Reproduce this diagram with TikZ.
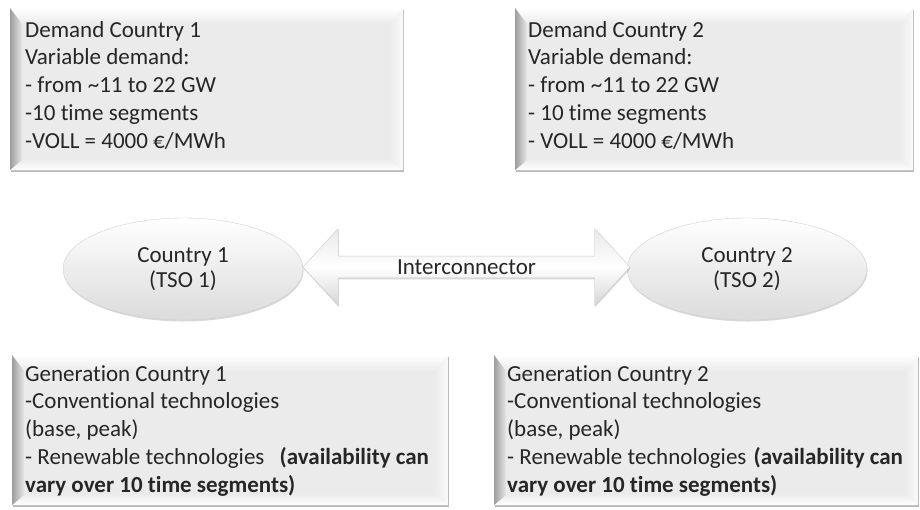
\documentclass[tikz,border=0pt]{standalone}
\usepackage{fontspec}
\setmainfont{Carlito}[Ligatures={NoCommon,NoRare}, Contextuals=NoAlternate]
\usetikzlibrary{shapes.geometric,shapes.arrows,shadows}
\tikzset{
  panel/.style={fill=black!8, draw=none, inner sep=0pt, anchor=north west,
    drop shadow={shadow xshift=0.8pt, shadow yshift=-2pt, opacity=0.45, fill=black!60},
    path picture={
      \path (path picture bounding box.north west) coordinate (pa)
            (path picture bounding box.north east) coordinate (pb)
            (path picture bounding box.south east) coordinate (pc)
            (path picture bounding box.south west) coordinate (pd);
      \shade[top color=white, bottom color=black!8]
        (pa) -- (pb) -- ([xshift=-12pt,yshift=-16pt]pb) -- ([xshift=12pt,yshift=-16pt]pa) -- cycle;
      \shade[left color=black!38, right color=black!9]
        (pa) -- ([xshift=12pt,yshift=-16pt]pa) -- ([xshift=12pt,yshift=10pt]pd) -- (pd) -- cycle;
      \shade[left color=black!7, right color=black!2]
        (pb) -- ([xshift=-12pt,yshift=-16pt]pb) -- ([xshift=-12pt,yshift=10pt]pc) -- (pc) -- cycle;
      \shade[top color=black!7, bottom color=white]
        (pd) -- ([xshift=12pt,yshift=10pt]pd) -- ([xshift=-12pt,yshift=10pt]pc) -- (pc) -- cycle;
    }},
  paneltext/.style={anchor=north west, inner sep=0pt, align=left, text=black!85,
    font=\fontsize{23pt}{27.8pt}\selectfont},
  country/.style={ellipse, minimum width=240pt, minimum height=102pt, inner sep=0pt,
    align=center, text=black!85, font=\fontsize{23pt}{25pt}\selectfont,
    top color=white, bottom color=black!14, draw=black!18, line width=0.4pt,
    drop shadow={shadow xshift=0.6pt, shadow yshift=-1.5pt, opacity=0.3, fill=black!50}},
  linkarrow/.style={double arrow, minimum height=327pt, minimum width=77pt,
    double arrow head extend=19.5pt, double arrow tip angle=95, inner sep=0pt,
    top color=black!9, bottom color=black!16, middle color=white,
    draw=black!20, line width=0.4pt, text=black!85, font=\fontsize{23pt}{27pt}\selectfont,
    drop shadow={shadow xshift=0.6pt, shadow yshift=-1.5pt, opacity=0.3, fill=black!50}}
}
\begin{document}
\begin{tikzpicture}[x=1pt,y=-1pt]
\useasboundingbox[fill=white] (0,0) rectangle (920,509);
% demand panels
\node[panel, minimum width=393pt, minimum height=162pt] (d1) at (10,8) {};
\node[panel, minimum width=398pt, minimum height=162pt] (d2) at (515,8) {};
\node[paneltext] (d1t) at (25,17.5) {\strut Demand Country 1\\Variable demand:\\- from \textasciitilde11 to 22 GW\\-10 time segments\\-VOLL = 4000 €/MWh};
\node[paneltext] (d2t) at (528,17.5) {\strut Demand Country 2\\Variable demand:\\- from \textasciitilde11 to 22 GW\\- 10 time segments\\- VOLL = 4000 €/MWh};
% generation panels
\node[panel, minimum width=436pt, minimum height=150pt] (g1) at (12,355) {};
\node[panel, minimum width=424pt, minimum height=150pt] (g2) at (494,355) {};
\node[paneltext] (g1t) at (25,361.5) {\strut Generation Country 1\\-Conventional technologies\\(base, peak)\\- Renewable technologies\hspace{10pt} \textbf{(availability can}\\\textbf{vary over 10 time segments)}};
\node[paneltext] (g2t) at (507,361.5) {\strut Generation Country 2\\-Conventional technologies\\(base, peak)\\- Renewable technologies\hspace{2pt} \textbf{(availability can}\\\textbf{vary over 10 time segments)}};
% countries and interconnector
\node[country] (c1) at (183,269) {Country 1\\(TSO 1)};
\node[country] (c2) at (747,269) {Country 2\\(TSO 2)};
\node[linkarrow] (ic) at (466.5,267) {Interconnector};
\end{tikzpicture}
\end{document}
